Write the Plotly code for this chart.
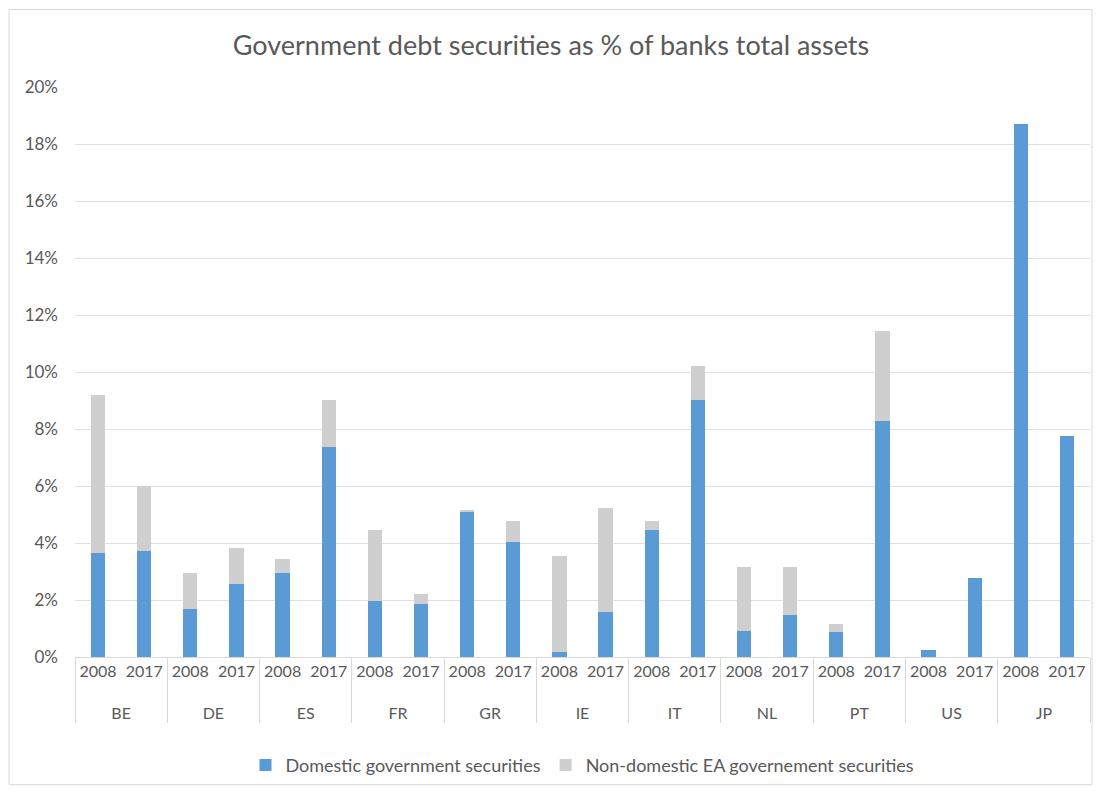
import plotly.graph_objects as go

countries = ["BE", "DE", "ES", "FR", "GR", "IE", "IT", "NL", "PT", "US", "JP"]
years = ["2008", "2017"]

# Domestic government securities (% of total assets), per country: [2008, 2017]
domestic = [3.64, 3.73, 1.69, 2.55, 2.94, 7.36, 1.95, 1.86, 5.12, 4.02,
            0.16, 1.57, 4.45, 9.02, 0.92, 1.48, 0.87, 8.27, 0.23, 2.76, 18.7, 7.77]
# Non-domestic EA government securities (% of total assets)
non_domestic = [5.56, 2.27, 1.25, 1.28, 0.50, 1.67, 2.50, 0.34, 0.03, 0.75,
                3.38, 3.66, 0.33, 1.20, 2.25, 1.69, 0.29, 3.18, 0.0, 0.0, 0.0, 0.0]

x_country = ["<br>" + c for c in countries for _ in years]
x_year = [y for _ in countries for y in years]

font_family = "Lato, 'Open Sans', sans-serif"
grey_text = "#595959"

fig = go.Figure()
fig.add_trace(go.Bar(
    x=[x_country, x_year], y=[v / 100 for v in domestic],
    name="Domestic government securities", marker_color="#5B9BD5",
    marker_line_width=0,
))
fig.add_trace(go.Bar(
    x=[x_country, x_year], y=[v / 100 for v in non_domestic],
    name="Non-domestic EA governement securities", marker_color="#CFCFCF",
    marker_line_width=0,
))

fig.update_layout(
    barmode="stack",
    bargap=0.69,
    width=1086, height=780,
    margin=dict(l=67, r=4, t=79, b=129),
    paper_bgcolor="white", plot_bgcolor="white",
    font=dict(family=font_family, color=grey_text, size=17),
    title=dict(text="Government debt securities as % of banks total assets",
               x=0.5, xanchor="center", y=0.952, yanchor="middle",
               font=dict(size=27, color=grey_text, family=font_family)),
    legend=dict(orientation="h", x=0.5, xanchor="center", y=-0.19, yanchor="middle",
                font=dict(size=18, color=grey_text), traceorder="normal",
                itemwidth=30),
    showlegend=True,
)
fig.update_yaxes(
    range=[0, 0.20], dtick=0.02, tickformat=".0%",
    showgrid=True, gridcolor="#E0E0E0", gridwidth=1,
    zeroline=False, showline=False, ticks="",
    tickfont=dict(size=17, color=grey_text), ticklabelstandoff=16,
)
fig.update_xaxes(
    type="multicategory", tickangle=0, automargin=False,
    showline=True, linecolor="#D9D9D9", linewidth=1,
    showdividers=True, dividercolor="#D9D9D9", dividerwidth=1,
    ticks="", tickfont=dict(size=16, color=grey_text),
    showgrid=False,
)
fig.add_shape(type="rect", xref="paper", yref="paper",
              x0=-0.065, x1=1.002, y0=-0.224, y1=1.136,
              line=dict(color="#D9D9D9", width=1), fillcolor="rgba(0,0,0,0)")

fig.write_html("out.html")
